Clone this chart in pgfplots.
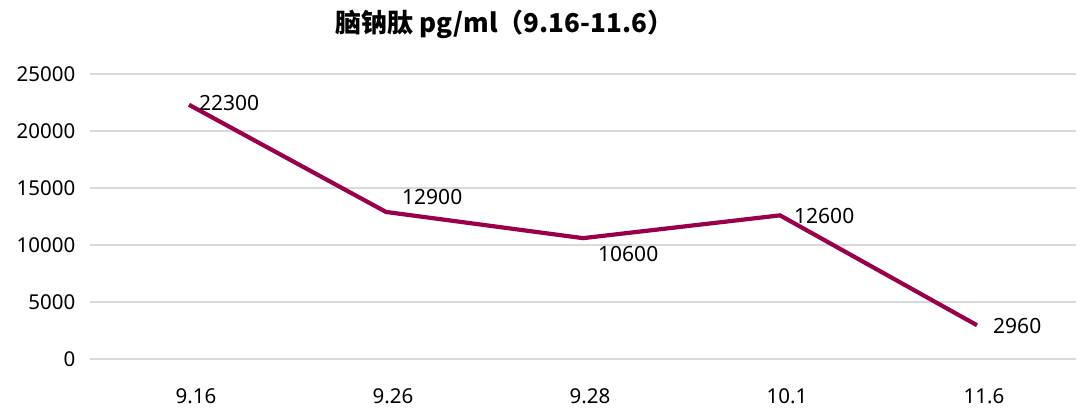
\documentclass[border=0pt]{standalone}
\usepackage{fontspec}
\setmainfont{Noto Sans}
\newfontfamily\cjk{Noto Sans CJK SC}
\usepackage{pgfplots}
\pgfplotsset{compat=1.18}
\definecolor{linec}{RGB}{153,0,76}
\definecolor{gridc}{RGB}{217,217,217}
\begin{document}
\begin{tikzpicture}[x=1bp,y=1bp]
\path[use as bounding box] (-90.5,-57) rectangle (989.5,359);
\begin{axis}[
  at={(0,0)}, anchor=south west,
  scale only axis, width=985bp, height=285bp,
  xmin=-0.5, xmax=4.5, ymin=0, ymax=25000,
  xtick={0,1,2,3,4},
  xticklabels={9.16,9.26,9.28,10.1,11.6},
  ytick={0,5000,10000,15000,20000,25000},
  scaled y ticks=false,
  axis line style={draw=none},
  ymajorgrids, major grid style={gridc, line width=1.2bp},
  tick style={draw=none},
  /pgf/number format/assume math mode=true,
  /pgf/number format/1000 sep={},
  ticklabel style={font=\fontsize{20.5bp}{24bp}\selectfont, text=black},
  yticklabel style={anchor=east, xshift=-15bp, inner sep=0pt},
  xticklabel style={anchor=center, yshift=-37bp, xshift=7bp, inner sep=0pt},
  clip=false,
]
\addplot[linec, line width=4.2bp, mark=none] coordinates {(0,22300) (1,12900) (2,10600) (3,12600) (4,2960)};
\pgfplotsset{lbl/.style={draw=none, mark=none, point meta=explicit symbolic, nodes near coords,
  every node near coord/.append style={font=\fontsize{21bp}{24bp}\selectfont, text=black, inner sep=0pt, anchor=west, #1}}}
\addplot[lbl={xshift=10bp, yshift=2bp}] coordinates {(0,22300) [22300]};
\addplot[lbl={xshift=16bp, yshift=15bp}] coordinates {(1,12900) [12900]};
\addplot[lbl={xshift=15bp, yshift=-16bp}] coordinates {(2,10600) [10600]};
\addplot[lbl={xshift=14bp, yshift=-1bp}] coordinates {(3,12600) [12600]};
\addplot[lbl={xshift=16bp, yshift=-1bp}] coordinates {(4,2960) [2960]};
\end{axis}
\node[font=\cjk\bfseries\fontsize{26bp}{30bp}\selectfont, anchor=center] at (414,335) {脑钠肽 pg/ml（9.16-11.6）};
\end{tikzpicture}
\end{document}
